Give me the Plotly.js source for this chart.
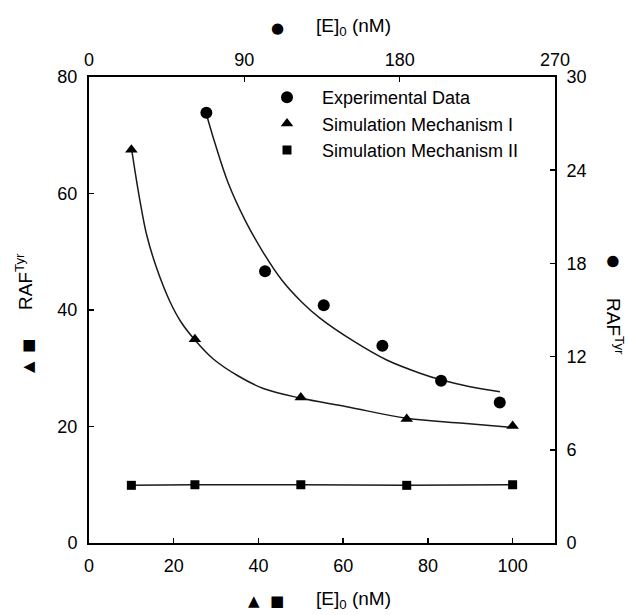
<!DOCTYPE html>
<html>
<head>
<meta charset="utf-8">
<script src="https://cdn.plot.ly/plotly-3.0.1.min.js"></script>
<style>html,body{margin:0;padding:0;background:#fff;}#chart{width:628px;height:615px;}</style>
</head>
<body>
<div id="chart"></div>
<script>
// ---- Data ----
// Experimental data: top x axis [E]0 (nM, 0-270), right y axis RAF^Tyr (0-30)
var expX = [68, 102, 136, 170, 204, 238];
var expY = [27.7, 17.5, 15.3, 12.7, 10.45, 9.05];
var expFitX = [68, 73, 80.7, 90.4, 100.1, 111.7, 123.2, 133.8, 153.1, 172.5, 191.8, 204.4, 220.8, 238.1];
var expFitY = [27.62, 25.73, 23.16, 20.79, 18.86, 16.93, 15.52, 14.48, 13.01, 11.78, 10.93, 10.49, 10.06, 9.74];

// Simulation Mechanism I: bottom x axis (0-110), left y axis (0-80)
var mech1X = [10, 25, 50, 75, 100];
var mech1Y = [67.5, 35.0, 25.0, 21.3, 20.1];
var mech1FitX = [10.08, 10.74, 12.04, 13.62, 15.98, 19.12, 21.72, 25.0, 29.34, 35.24, 41.15, 49.81, 60.84, 75.0, 88.36, 99.79];
var mech1FitY = [67.47, 64.38, 58.71, 52.88, 47.16, 41.42, 37.94, 34.85, 31.59, 28.67, 26.52, 24.89, 23.40, 21.41, 20.55, 19.86];

// Simulation Mechanism II
var mech2X = [10, 25, 50, 75, 100];
var mech2Y = [9.9, 10.0, 10.0, 9.9, 10.0];

// Tick values
var bottomTicks = [0, 20, 40, 60, 80, 100];
var topTicks = [0, 90, 180, 270];
var leftTicks = [0, 20, 40, 60, 80];
var rightTicks = [0, 6, 12, 18, 24, 30];

var seriesNames = ['Experimental Data', 'Simulation Mechanism I', 'Simulation Mechanism II'];

// ---- Layout geometry ----
var W = 628, H = 615;
var PL = 89, PR = 555, PT = 77, PB = 543;
function px(x) { return (x - PL) / (PR - PL); }
function py(y) { return (PB - y) / (PB - PT); }

var FONT = 'Liberation Sans, Arial, DejaVu Sans, sans-serif';
var LC = '#1a1a1a';

var traces = [
  {x: mech1FitX, y: mech1FitY, xaxis: 'x', yaxis: 'y', mode: 'lines', line: {color: LC, width: 1.5, shape: 'spline', smoothing: 1}, showlegend: false, hoverinfo: 'skip'},
  {x: expFitX, y: expFitY, xaxis: 'x2', yaxis: 'y2', mode: 'lines', line: {color: LC, width: 1.5, shape: 'spline', smoothing: 1}, showlegend: false, hoverinfo: 'skip'},
  {x: mech2X, y: mech2Y, xaxis: 'x', yaxis: 'y', mode: 'lines', line: {color: LC, width: 1.5}, showlegend: false, hoverinfo: 'skip'},
  {x: expX, y: expY, xaxis: 'x2', yaxis: 'y2', mode: 'markers', name: seriesNames[0], legendgroup: 'a', legendrank: 1,
   marker: {symbol: 'circle', size: 12, color: '#000'}},
  {x: mech1X, y: mech1Y, xaxis: 'x', yaxis: 'y', mode: 'markers', name: seriesNames[1], legendgroup: 'b', legendrank: 2,
   marker: {symbol: 'triangle-up', size: 11, color: '#000'}},
  {x: mech2X, y: mech2Y, xaxis: 'x', yaxis: 'y', mode: 'markers', name: seriesNames[2], legendgroup: 'c', legendrank: 3,
   marker: {symbol: 'square', size: 9, color: '#000'}}
];

var axBase = {
  showgrid: false, zeroline: false, showline: true, linecolor: '#000', linewidth: 2,
  ticks: 'inside', ticklen: 5, tickwidth: 1.5, tickcolor: '#000',
  tickfont: {family: FONT, size: 18, color: '#000'}, fixedrange: true
};
function ax(extra) { return Object.assign({}, axBase, extra); }

var tf = {family: FONT, size: 19, color: '#000'};
var sf = {family: 'DejaVu Sans, Liberation Sans, sans-serif', size: 15, color: '#000'};
function ann(text, x, y, font, angle) {
  return {text: text, xref: 'paper', yref: 'paper', x: px(x), y: py(y), xanchor: 'center', yanchor: 'middle',
          showarrow: false, font: font, textangle: angle || 0};
}

var layout = {
  width: W, height: H,
  margin: {l: PL, r: W - PR, t: PT, b: H - PB, pad: 0},
  paper_bgcolor: '#fff', plot_bgcolor: '#fff',
  xaxis: ax({range: [0, 110], tickvals: bottomTicks, ticklabelstandoff: 5, anchor: 'y'}),
  xaxis2: ax({range: [0, 270], tickvals: topTicks, overlaying: 'x', side: 'top', anchor: 'y', ticklabelstandoff: 2}),
  yaxis: ax({range: [0, 80], tickvals: leftTicks, ticklabelstandoff: 6, anchor: 'x'}),
  yaxis2: ax({range: [0, 30], tickvals: rightTicks, overlaying: 'y', side: 'right', anchor: 'x', ticklabelstandoff: 6}),
  showlegend: true,
  legend: {x: px(252), y: py(79), xanchor: 'left', yanchor: 'top', bgcolor: 'rgba(0,0,0,0)', borderwidth: 0,
           itemwidth: 60, tracegroupgap: 3, traceorder: 'normal', font: {family: FONT, size: 18, color: '#000'}},
  annotations: [
    ann('\u25CF', 277, 28, sf),
    ann('[E]<sub>0</sub> (nM)', 353, 27, tf),
    ann('\u25B2', 254, 601, sf),
    ann('\u25A0', 277, 601, sf),
    ann('[E]<sub>0</sub> (nM)', 353, 600, tf),
    ann('RAF<sup>Tyr</sup>', 24, 282, tf, -90),
    ann('\u25A0', 28, 346, sf, -90),
    ann('\u25B2', 28, 367, sf, -90),
    ann('\u25CF', 614, 261, sf, 90),
    ann('RAF<sup>Tyr</sup>', 615, 326, tf, 90)
  ]
};

Plotly.newPlot('chart', traces, layout, {displayModeBar: false, staticPlot: true});
</script>
</body>
</html>
